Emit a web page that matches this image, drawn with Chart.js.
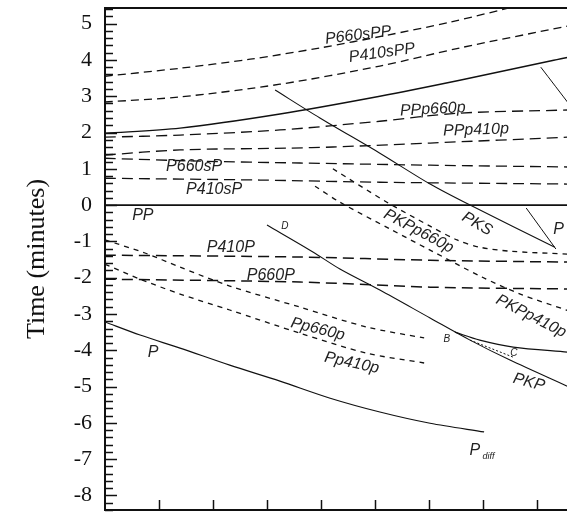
<!DOCTYPE html>
<html>
<head>
<meta charset="utf-8">
<script src="https://cdn.jsdelivr.net/npm/chart.js"></script>
<style>
html, body { margin: 0; padding: 0; background: #fff; overflow: hidden; width: 567px; height: 512px; }
canvas { display: block; }
</style>
</head>
<body>
<canvas id="travelChart" width="600" height="512"></canvas>
<script>
// Tick values (x ticks carry no labels in the figure)
const yTickValues = [-8, -7, -6, -5, -4, -3, -2, -1, 0, 1, 2, 3, 4, 5];
const xTickValues = [1, 2, 3, 4, 5, 6, 7, 8];

// Curves: x = distance step, y = time (minutes)
const p660sPPX = [0, 1.39, 2.69, 3.98, 5.22, 6.39, 7.78];
const p660sPPY = [3.55, 3.77, 4.02, 4.33, 4.68, 5.04, 5.54];

const p410sPPX = [0, 1.39, 3.24, 5.09, 6.57, 8.56];
const p410sPPY = [2.84, 2.98, 3.33, 3.83, 4.33, 4.93];

const upperSolidX = [0, 1.39, 3.24, 5.09, 6.57, 8.31, 8.80];
const upperSolidY = [1.98, 2.12, 2.51, 3.00, 3.44, 3.99, 4.13];

const upperBranchX = [8.07, 8.61];
const upperBranchY = [3.80, 2.75];

const ppp660pX = [0, 1.39, 3.24, 5.09, 6.52, 8.56];
const ppp660pY = [1.87, 1.93, 2.07, 2.31, 2.53, 2.62];

const ppp410pX = [0, 1.39, 3.43, 4.22, 6.02, 8.56];
const ppp410pY = [1.38, 1.52, 1.57, 1.60, 1.71, 1.87];

const p660sPX = [0, 1.76, 3.61, 6.02, 8.56];
const p660sPY = [1.29, 1.21, 1.16, 1.10, 1.05];

const p410sPX = [0, 2.87, 5.09, 8.56];
const p410sPY = [0.74, 0.69, 0.63, 0.58];

const ppX = [0, 9];
const ppY = [0, 0];

const pksX = [3.15, 3.98, 5.09, 6.02, 6.76, 8.33];
const pksY = [3.17, 2.40, 1.43, 0.58, 0, -1.16];

const rightBranchX = [7.80, 8.35];
const rightBranchY = [-0.08, -1.21];

const pkpp660pX = [4.22, 5.22, 6.02, 6.52, 6.94, 7.50, 8.56];
const pkpp660pY = [1.00, 0.08, -0.58, -0.96, -1.16, -1.27, -1.35];

const pkpp410pX = [3.89, 4.35, 5.28, 6.02, 6.98, 7.69, 8.56];
const pkpp410pY = [0.52, 0.08, -0.66, -1.24, -1.98, -2.45, -2.90];

const p410PX = [0, 3.61, 6.02, 8.56];
const p410PY = [-1.38, -1.43, -1.52, -1.57];

const p660PX = [0, 3.61, 6.02, 8.56];
const p660PY = [-2.04, -2.12, -2.26, -2.31];

const pp660pX = [0, 0.74, 1.39, 2.31, 3.61, 4.85, 5.91];
const pp660pY = [-0.96, -1.32, -1.71, -2.23, -2.81, -3.36, -3.66];

const pp410pX = [0, 0.65, 1.39, 2.31, 3.61, 4.85, 5.91];
const pp410pY = [-1.63, -2.04, -2.45, -2.89, -3.53, -4.08, -4.35];

const pkpDFX = [3.00, 3.85, 4.35, 5.09, 6.02, 6.76, 7.50, 8.56];
const pkpDFY = [-0.55, -1.29, -1.76, -2.34, -3.11, -3.72, -4.27, -4.99];

const pkpBCX = [6.48, 6.94, 7.56, 8.56];
const pkpBCY = [-3.50, -3.72, -3.91, -4.05];

const pkpCX = [6.76, 7.56];
const pkpCY = [-3.72, -4.19];

const pX = [0, 0.65, 1.39, 2.31, 3.24, 4.17, 5.09, 6.02, 7.02];
const pY = [-3.22, -3.58, -3.94, -4.41, -4.85, -5.32, -5.70, -6.01, -6.25];

// phase names: text, x, y, angle (deg), font size
const phaseLabels = [
    ['P660sPP', 4.69, 4.68, -7, 16],
    ['P410sPP', 5.13, 4.19, -8, 16],
    ['PPp660p', 6.07, 2.64, -3, 16],
    ['PPp410p', 6.87, 2.07, -2, 16],
    ['P660sP', 1.65, 1.05, 0, 16],
    ['P410sP', 2.02, 0.44, 0, 16],
    ['PP', 0.70, -0.30, 0, 16],
    ['P410P', 2.33, -1.16, 0, 16],
    ['P660P', 3.07, -1.93, 0, 16],
    ['D', 3.33, -0.58, 0, 10],
    ['PKPp660p', 5.81, -0.72, 28, 16],
    ['PKS', 6.89, -0.52, 30, 16],
    ['P', 8.40, -0.66, 0, 16],
    ['PKPp410p', 7.89, -3.06, 27, 16],
    ['Pp660p', 3.94, -3.42, 14, 16],
    ['Pp410p', 4.57, -4.35, 12, 16],
    ['B', 6.33, -3.69, 0, 10],
    ['C', 7.57, -4.08, 0, 10],
    ['PKP', 7.85, -4.88, 15, 16],
    ['P', 0.89, -4.05, 0, 16],
    ['P', 6.85, -6.75, 0, 16]
];
const subscriptLabels = [['diff', 7.10, -6.92, 9]];

function curve(xs, ys, dash, width) {
    return {
        data: xs.map((x, i) => ({ x: x, y: ys[i] })),
        showLine: true,
        borderColor: '#111',
        borderWidth: width || 1.3,
        borderDash: dash || [],
        pointRadius: 0,
        tension: 0.3,
        fill: false
    };
}

const longDash = [11, 6];
const midDash = [8, 5];
const shortDash = [5, 5];

const datasets = [
    curve(p660sPPX, p660sPPY, midDash),
    curve(p410sPPX, p410sPPY, midDash),
    curve(upperSolidX, upperSolidY, [], 1.4),
    curve(upperBranchX, upperBranchY, [], 1),
    curve(ppp660pX, ppp660pY, longDash),
    curve(ppp410pX, ppp410pY, longDash),
    curve(p660sPX, p660sPY, longDash),
    curve(p410sPX, p410sPY, longDash),
    curve(ppX, ppY, [], 1.6),
    curve(pksX, pksY, [], 1.1),
    curve(rightBranchX, rightBranchY, [], 1),
    curve(pkpp660pX, pkpp660pY, shortDash),
    curve(pkpp410pX, pkpp410pY, shortDash),
    curve(p410PX, p410PY, longDash, 1.5),
    curve(p660PX, p660PY, longDash, 1.5),
    curve(pp660pX, pp660pY, shortDash),
    curve(pp410pX, pp410pY, shortDash),
    curve(pkpDFX, pkpDFY, [], 1.1),
    curve(pkpBCX, pkpBCY, [], 1.3),
    curve(pkpCX, pkpCY, [2, 2], 1),
    curve(pX, pY, [], 1.2)
];

const framePlugin = {
    id: 'frame',
    afterDraw(chart) {
        const ctx = chart.ctx;
        const area = chart.chartArea;
        const xs = chart.scales.x;
        const ys = chart.scales.y;
        ctx.save();
        ctx.strokeStyle = '#111';
        ctx.lineWidth = 2;
        ctx.beginPath();
        ctx.moveTo(area.right + 20, area.top);
        ctx.lineTo(area.left, area.top);
        ctx.lineTo(area.left, area.bottom);
        ctx.lineTo(area.right + 20, area.bottom);
        ctx.stroke();

        // inward ticks on the time axis, every 0.2 minute
        ctx.lineWidth = 1.5;
        for (let k = -42; k <= 27; k++) {
            const v = k / 5;
            const py = Math.round(ys.getPixelForValue(v)) + 0.5;
            const len = (k % 5 === 0) ? 12 : 8;
            ctx.beginPath();
            ctx.moveTo(area.left, py);
            ctx.lineTo(area.left + len, py);
            ctx.stroke();
        }
        xTickValues.forEach(v => {
            const px = Math.round(xs.getPixelForValue(v)) + 0.5;
            ctx.beginPath();
            ctx.moveTo(px, area.bottom);
            ctx.lineTo(px, area.bottom - 10);
            ctx.stroke();
        });
        ctx.restore();
    }
};

const labelPlugin = {
    id: 'phaseNames',
    afterDatasetsDraw(chart) {
        const ctx = chart.ctx;
        const xs = chart.scales.x;
        const ys = chart.scales.y;
        ctx.save();
        ctx.fillStyle = '#222';
        ctx.textAlign = 'center';
        ctx.textBaseline = 'middle';
        phaseLabels.forEach(([text, x, y, angle, size]) => {
            ctx.save();
            ctx.translate(xs.getPixelForValue(x), ys.getPixelForValue(y));
            ctx.rotate(angle * Math.PI / 180);
            ctx.font = `italic ${size}px "Liberation Sans", Arial, sans-serif`;
            ctx.fillText(text, 0, 0);
            ctx.restore();
        });
        subscriptLabels.forEach(([text, x, y, size]) => {
            ctx.font = `italic ${size}px "Liberation Sans", Arial, sans-serif`;
            ctx.fillText(text, xs.getPixelForValue(x), ys.getPixelForValue(y));
        });
        ctx.restore();
    }
};

const ctx = document.getElementById('travelChart').getContext('2d');
new Chart(ctx, {
    type: 'scatter',
    data: { datasets: datasets },
    options: {
        responsive: false,
        animation: false,
        layout: { padding: { top: 8, right: 9, bottom: 2, left: 0 } },
        plugins: {
            legend: { display: false },
            tooltip: { enabled: false }
        },
        scales: {
            x: {
                type: 'linear',
                display: false,
                min: 0,
                max: 9
            },
            y: {
                type: 'linear',
                min: -8.4,
                max: 5.43,
                afterFit(scale) {
                    scale.width = 105;
                    scale.paddingTop = 0;
                    scale.paddingBottom = 0;
                },
                afterBuildTicks(scale) {
                    scale.ticks = yTickValues.map(v => ({ value: v }));
                },
                border: { display: false },
                grid: { display: false, drawTicks: false },
                ticks: {
                    padding: 13,
                    color: '#111',
                    font: { family: '"Liberation Serif", "Times New Roman", serif', size: 22 },
                    callback: v => String(v)
                },
                title: {
                    display: true,
                    text: 'Time (minutes)',
                    color: '#111',
                    padding: { top: 22, bottom: 0 },
                    font: { family: '"Liberation Serif", "Times New Roman", serif', size: 26 }
                }
            }
        }
    },
    plugins: [labelPlugin, framePlugin]
});
</script>
</body>
</html>
